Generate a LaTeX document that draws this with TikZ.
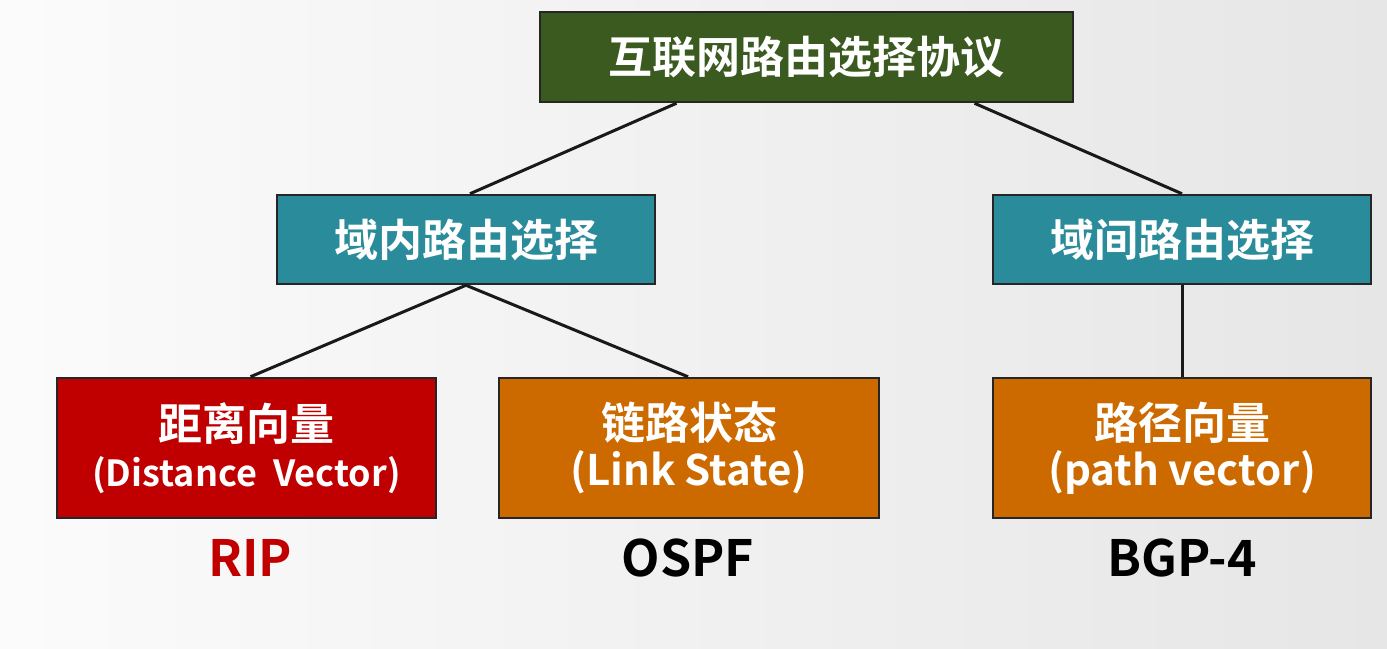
\documentclass[tikz,border=0pt]{standalone}
\usepackage{fontspec}
\setmainfont{Noto Sans CJK SC Bold}
\usetikzlibrary{calc}
\definecolor{bgc}{HTML}{E6E6E6}
\definecolor{topg}{HTML}{3B5A1F}
\definecolor{teal}{HTML}{2A8B9A}
\definecolor{redb}{HTML}{C00000}
\definecolor{orgb}{HTML}{CC6A00}
\tikzset{
 box/.style={draw=black!85,line width=2.5pt,text=white,font=\fontsize{44}{50}\selectfont,align=center,inner sep=0pt},
 lbl/.style={font=\fontsize{50}{56}\selectfont},
 conn/.style={line width=3pt,black!90}
}
\begin{document}
\begin{tikzpicture}[x=1pt,y=-1pt]
\shade[left color=white!97!gray, right color=bgc] (0,0) rectangle (1387,648);
\useasboundingbox (0,0) rectangle (1387,648);
\node[box,fill=topg,minimum width=533,minimum height=90] (top) at (806.5,57) {互联网路由选择协议};
\node[box,fill=teal,minimum width=378,minimum height=89] (intra) at (466,239.5) {域内路由选择};
\node[box,fill=teal,minimum width=378,minimum height=89] (inter) at (1182,239.5) {域间路由选择};
\node[box,fill=redb,minimum width=379,minimum height=140] (dv) at (246.5,448) {距离向量\\[-4pt]{\fontsize{36}{42}\selectfont (Distance~ Vector)}};
\node[box,fill=orgb,minimum width=380,minimum height=140] (ls) at (689,448) {链路状态\\[-4pt]{\fontsize{42}{48}\selectfont (Link State)}};
\node[box,fill=orgb,minimum width=378,minimum height=140] (pv) at (1182,448) {路径向量\\[-4pt]{\fontsize{42}{48}\selectfont (path vector)}};
\node[lbl,text=redb] (rip) at (250,558) {RIP};
\node[lbl] (ospf) at (688,558) {OSPF};
\node[lbl] (bgp) at (1182,558) {BGP-4};
\draw[conn] ($(top.south)+(-130,0)$) -- ($(intra.north)+(4,0)$);
\draw[conn] ($(top.south)+(168,0)$) -- (inter.north);
\draw[conn] (intra.south) -- ($(dv.north)+(4,0)$);
\draw[conn] (intra.south) -- ($(ls.north)+(-1,0)$);
\draw[conn] (inter.south) -- (pv.north);
\end{tikzpicture}
\end{document}
